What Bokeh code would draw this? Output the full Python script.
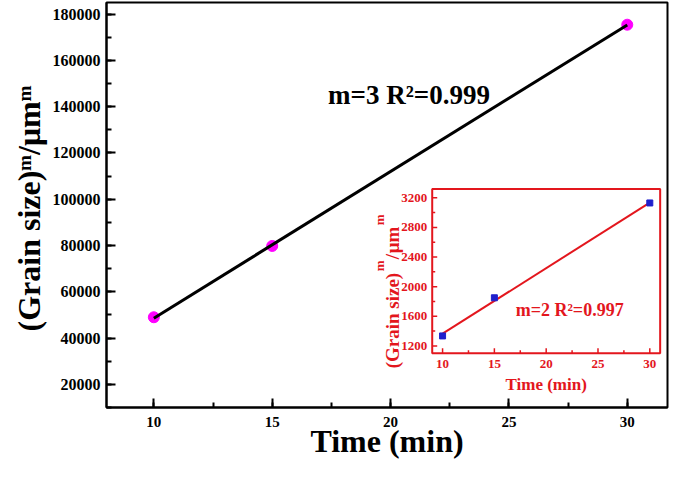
import math
from bokeh.plotting import figure
from bokeh.models import Range1d, SingleIntervalTicker, NumeralTickFormatter, Label, Title
from bokeh.core.properties import value
from bokeh.embed import file_html
from bokeh.resources import INLINE

# ---------------- data ----------------
time_min = [10, 15, 30]
grain_m3 = [49000, 79800, 175400]
fit3_x = [10, 30]
fit3_y = [48600, 175300]
fit3_text = "m=3 R\u00b2=0.999"

inset_time = [10, 15, 30]
grain_m2 = [1335, 1850, 3130]
fit2_x = [10, 30]
fit2_y = [1365, 3135]
fit2_text = "m=2 R\u00b2=0.997"

inset_x_ticks = [10, 15, 20, 25, 30]
inset_x_minor = [12.5, 17.5, 22.5, 27.5]
inset_y_ticks = [1200, 1600, 2000, 2400, 2800, 3200]
inset_y_minor = [1400, 1800, 2200, 2600, 3000]

x_label = "Time (min)"
y_label_main = "(Grain size)\u1d50/\u03bcm\u1d50"
y_label_parts = ["(Grain size)", "m", "/", "\u03bcm", "m"]

# ---------------- layout / style constants ----------------
X_RANGE = (8, 31.7)
Y_RANGE = (10000, 185000)
INSET_X = (9, 31)
INSET_Y = (1100, 3320)
INSET_TARGET_X = (21.76, 31.39)
INSET_TARGET_Y = (33400, 104460)

FONT = "Liberation Serif"
RED = "#e3161d"
BLUE = "#1f1fcc"
MAGENTA = "#ff00ff"

p = figure(width=669, height=461,
           x_range=Range1d(*X_RANGE), y_range=Range1d(*Y_RANGE),
           output_backend="svg", toolbar_location=None,
           min_border_left=106, min_border_right=2,
           min_border_top=2, min_border_bottom=50)
p.xgrid.visible = False
p.ygrid.visible = False
p.outline_line_color = "black"
p.outline_line_width = 2
p.background_fill_color = "white"
p.border_fill_color = "white"

p.xaxis.ticker = SingleIntervalTicker(interval=5, num_minor_ticks=2)
p.yaxis.ticker = SingleIntervalTicker(interval=20000, num_minor_ticks=2)
p.yaxis.formatter = NumeralTickFormatter(format="0")
for ax in (p.xaxis, p.yaxis):
    ax.axis_line_width = 2
    ax.axis_line_color = "black"
    ax.major_tick_in = 9
    ax.major_tick_out = 0
    ax.minor_tick_in = 5
    ax.minor_tick_out = 0
    ax.major_tick_line_width = 2
    ax.minor_tick_line_width = 2
    ax.major_tick_line_color = "black"
    ax.minor_tick_line_color = "black"
    ax.major_label_text_font = FONT
    ax.major_label_text_font_style = "bold"
    ax.major_label_text_color = "black"
p.xaxis.major_label_text_font_size = "15px"
p.yaxis.major_label_text_font_size = "16px"
p.xaxis.major_label_standoff = 9
p.yaxis.major_label_standoff = 6

p.xaxis.axis_label = x_label
p.xaxis.axis_label_text_font = FONT
p.xaxis.axis_label_text_font_style = "bold"
p.xaxis.axis_label_text_font_size = "32px"
p.xaxis.axis_label_text_color = "black"
p.xaxis.axis_label_standoff = -7

p.add_layout(Title(text=y_label_main, align="left", offset=76,
                   text_font=FONT, text_font_style="bold",
                   text_font_size="32px", text_color="black", standoff=6), "left")

# main series
p.scatter(time_min, grain_m3, size=11, marker="circle",
          fill_color=MAGENTA, line_color=MAGENTA)
p.line(fit3_x, fit3_y, line_color="black", line_width=3)

p.add_layout(Label(x=17.36, y=145000, text=fit3_text,
                   text_font=FONT, text_font_style="bold",
                   text_font_size="27px", text_color="black",
                   text_baseline="alphabetic", text_align="left"))

# ---------------- inset ----------------
sub = p.subplot(x_source=Range1d(*INSET_X), y_source=Range1d(*INSET_Y),
                x_target=Range1d(*INSET_TARGET_X), y_target=Range1d(*INSET_TARGET_Y))

sub.quad(left=[INSET_X[0]], right=[INSET_X[1]], bottom=[INSET_Y[0]], top=[INSET_Y[1]],
         fill_color="white", line_color=RED, line_width=2)

# ticks
sub.ray(x=inset_x_ticks, y=[INSET_Y[0]] * len(inset_x_ticks), length=5,
        length_units="screen", angle=math.pi / 2, line_color=RED, line_width=1.5)
sub.ray(x=inset_x_minor, y=[INSET_Y[0]] * len(inset_x_minor), length=3,
        length_units="screen", angle=math.pi / 2, line_color=RED, line_width=1.5)
sub.ray(x=[INSET_X[0]] * len(inset_y_ticks), y=inset_y_ticks, length=5,
        length_units="screen", angle=0, line_color=RED, line_width=1.5)
sub.ray(x=[INSET_X[0]] * len(inset_y_minor), y=inset_y_minor, length=3,
        length_units="screen", angle=0, line_color=RED, line_width=1.5)

# tick labels
sub.text(x=inset_x_ticks, y=[INSET_Y[0]] * len(inset_x_ticks),
         text=[str(t) for t in inset_x_ticks], y_offset=7,
         text_align="center", text_baseline="top",
         text_font=value(FONT), text_font_style="bold",
         text_font_size="13px", text_color=RED)
sub.text(x=[INSET_X[0]] * len(inset_y_ticks), y=inset_y_ticks,
         text=[str(t) for t in inset_y_ticks], x_offset=-5,
         text_align="right", text_baseline="middle",
         text_font=value(FONT), text_font_style="bold",
         text_font_size="13px", text_color=RED)

# inset data
sub.line(fit2_x, fit2_y, line_color=RED, line_width=2)
sub.scatter(inset_time, grain_m2, marker="square", size=6,
            fill_color=BLUE, line_color=BLUE)
sub.text(x=[17.06], y=[1680], text=[fit2_text],
         text_align="left", text_baseline="alphabetic",
         text_font=value(FONT), text_font_style="bold",
         text_font_size="18px", text_color=RED)

# inset axis labels
sub.text(x=[20], y=[INSET_Y[0]], text=[x_label], y_offset=31,
         text_align="center", text_baseline="alphabetic",
         text_font=value(FONT), text_font_style="bold",
         text_font_size="17px", text_color=RED)
inset_y_style = [  # (x_offset, y_offset, size)
    (-40, 15, "19px"),
    (-53, -82, "13px"),
    (-40, -94, "19px"),
    (-40, -100, "19px"),
    (-53, -128, "13px"),
]
for txt, (xo, yo, fs) in zip(y_label_parts, inset_y_style):
    sub.text(x=[INSET_X[0]], y=[INSET_Y[0]], text=[txt], x_offset=xo, y_offset=yo,
             angle=math.pi / 2, text_align="left", text_baseline="alphabetic",
             text_font=value(FONT), text_font_style="bold",
             text_font_size=fs, text_color=RED)

open("out.html", "w").write(file_html(p, INLINE))
